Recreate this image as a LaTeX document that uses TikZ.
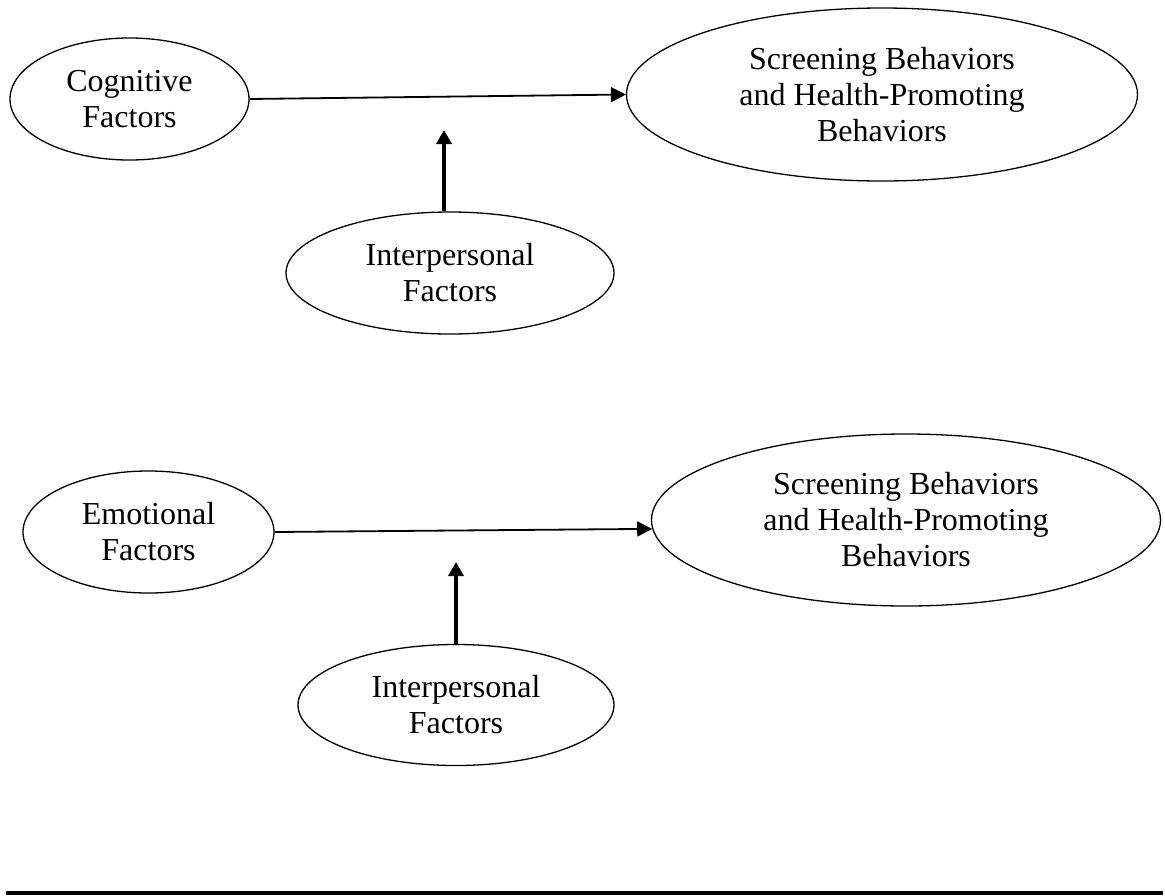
\documentclass[tikz,border=0pt]{standalone}
\usepackage{fontspec}
\setmainfont{Liberation Serif}
\usetikzlibrary{shapes.geometric,arrows.meta}
\begin{document}
\begin{tikzpicture}[x=1pt,y=-1pt,
  factor/.style={draw,ellipse,line width=1.3pt,inner sep=0pt,align=center,
    font=\fontsize{32}{36}\selectfont},
  link/.style={line width=1.8pt,-{Triangle[length=15pt,width=15pt]}},
  boldlink/.style={line width=4.8pt,-{Triangle[length=14pt,width=15pt]}}]
\useasboundingbox (0,0) rectangle (1165,895);

% upper model
\node[factor,minimum width=239pt,minimum height=122pt] (cog) at (129.5,99) {Cognitive\\Factors};
\node[factor,minimum width=511pt,minimum height=173pt] (sb1) at (882,94.5) {Screening Behaviors\\and Health-Promoting\\Behaviors};
\node[factor,minimum width=328pt,minimum height=122pt] (ip1) at (450,273) {Interpersonal\\Factors};
\coordinate (t1) at (444,130);
\draw[link] (cog.east) -- (sb1.west);
\draw[boldlink] (ip1.north -| t1) -- (t1);

% lower model
\node[factor,minimum width=251pt,minimum height=122pt] (emo) at (148.5,532) {Emotional\\Factors};
\node[factor,minimum width=509pt,minimum height=172pt] (sb2) at (906,520) {Screening Behaviors\\and Health-Promoting\\Behaviors};
\node[factor,minimum width=316pt,minimum height=121pt] (ip2) at (456,705) {Interpersonal\\Factors};
\coordinate (t2) at (456,562);
\draw[link] (emo.east) -- (sb2.182);
\draw[boldlink] (ip2.north -| t2) -- (t2);

% bottom rule
\draw[line width=4pt] (6,893) -- (1163,893);
\end{tikzpicture}
\end{document}
